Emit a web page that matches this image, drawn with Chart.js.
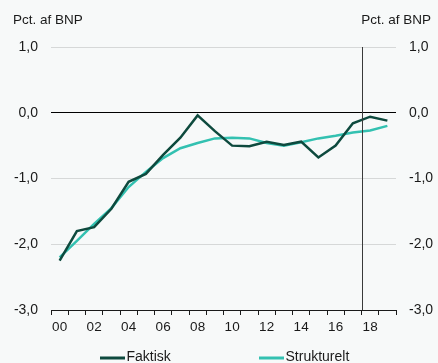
<!DOCTYPE html>
<html>
<head>
<meta charset="utf-8">
<script src="https://cdn.jsdelivr.net/npm/chart.js@4/dist/chart.umd.min.js"></script>
<style>
  html, body { margin: 0; padding: 0; background: #f7f9f9; }
  #wrap { width: 438px; height: 363px; }
</style>
</head>
<body>
<div id="wrap"><canvas id="myChart" width="438" height="363"></canvas></div>
<script>
const years = ["00", "01", "02", "03", "04", "05", "06", "07", "08", "09",
               "10", "11", "12", "13", "14", "15", "16", "17", "18", "19"];
const faktisk = [-2.25, -1.80, -1.74, -1.46, -1.05, -0.93, -0.64, -0.38, -0.04, -0.28,
                 -0.50, -0.51, -0.44, -0.49, -0.44, -0.68, -0.50, -0.16, -0.06, -0.12];
const strukturelt = [-2.20, -1.95, -1.69, -1.45, -1.13, -0.90, -0.69, -0.54, -0.46, -0.39,
                     -0.38, -0.39, -0.46, -0.50, -0.45, -0.39, -0.35, -0.30, -0.27, -0.20];
const yTicks = [-3, -2, -1, 0, 1];
const unitLabel = "Pct. af BNP";
const markerAfter = "17"; // vertical line between 17 and 18

const FONT = "'Liberation Sans', Arial, sans-serif";
const fmt = v => v.toFixed(1).replace(".", ",");

// background, header texts, the vertical marker line and the legend
const extras = {
  id: "extras",
  beforeDraw(chart) {
    const ctx = chart.ctx;
    ctx.save();
    ctx.fillStyle = "#f7f9f9";
    ctx.fillRect(0, 0, chart.width, chart.height);
    ctx.restore();
  },
  afterDatasetsDraw(chart) {
    const { ctx, chartArea, scales } = chart;
    const i = years.indexOf(markerAfter);
    const x = Math.round((scales.x.getPixelForValue(i) + scales.x.getPixelForValue(i + 1)) / 2) + 0.5;
    ctx.save();
    ctx.strokeStyle = "#3a3a3a";
    ctx.lineWidth = 1;
    ctx.beginPath();
    ctx.moveTo(x, chartArea.top);
    ctx.lineTo(x, chartArea.bottom);
    ctx.stroke();

    ctx.fillStyle = "#1a1a1a";
    ctx.font = "13.5px " + FONT;
    ctx.textBaseline = "middle";
    ctx.textAlign = "left";
    ctx.fillText(unitLabel, 13, 20);
    ctx.textAlign = "right";
    ctx.fillText(unitLabel, 431, 20);

    // legend: a short line swatch followed directly by the label
    const starts = [100, 259];
    ctx.font = "14px " + FONT;
    ctx.textAlign = "left";
    chart.data.datasets.forEach((ds, k) => {
      ctx.fillStyle = ds.borderColor;
      ctx.fillRect(starts[k], 356.5, 25, 3);
      ctx.fillStyle = "#1a1a1a";
      ctx.fillText(ds.label, starts[k] + 26.5, 357);
    });
    ctx.restore();
  }
};

new Chart(document.getElementById("myChart").getContext("2d"), {
  type: "line",
  data: {
    labels: years,
    datasets: [
      {
        label: "Faktisk",
        data: faktisk,
        borderColor: "#0e4a3e",
        backgroundColor: "#0e4a3e",
        borderWidth: 2.5,
        pointRadius: 0,
        tension: 0
      },
      {
        label: "Strukturelt",
        data: strukturelt,
        borderColor: "#33c1b1",
        backgroundColor: "#33c1b1",
        borderWidth: 2.5,
        pointRadius: 0,
        tension: 0
      }
    ]
  },
  options: {
    responsive: false,
    animation: false,
    layout: { padding: { top: 47, left: 0, right: 0, bottom: 25 } },
    plugins: {
      tooltip: { enabled: false },
      legend: { display: false }
    },
    scales: {
      x: {
        offset: true,
        grid: {
          offset: true,
          drawOnChartArea: false,
          drawTicks: true,
          tickLength: 5,
          color: "#1a1a1a"
        },
        border: { display: true, color: "#1a1a1a", width: 1 },
        ticks: {
          autoSkip: false,
          maxRotation: 0,
          padding: 4,
          color: "#1a1a1a",
          font: { family: FONT, size: 13.5 },
          callback: (v, i) => (i % 2 === 0 ? years[i] : "")
        },
        afterFit: s => { s.height = 28; }
      },
      y: {
        min: -3,
        max: 1,
        afterBuildTicks: s => { s.ticks = yTicks.map(v => ({ value: v })); },
        grid: {
          drawTicks: false,
          lineWidth: 1,
          color: c => (c.tick && c.tick.value === 0 ? "#000000" : "#d6d8d8")
        },
        border: { display: false },
        ticks: {
          padding: 13,
          color: "#1a1a1a",
          font: { family: FONT, size: 14 },
          callback: v => fmt(v)
        },
        afterFit: s => { s.width = 51; }
      },
      y2: {
        position: "right",
        min: -3,
        max: 1,
        afterBuildTicks: s => { s.ticks = yTicks.map(v => ({ value: v })); },
        grid: { drawOnChartArea: false, drawTicks: false },
        border: { display: false },
        ticks: {
          padding: 13,
          color: "#1a1a1a",
          font: { family: FONT, size: 14 },
          callback: v => fmt(v)
        },
        afterFit: s => { s.width = 42; }
      }
    }
  },
  plugins: [extras]
});
</script>
</body>
</html>
